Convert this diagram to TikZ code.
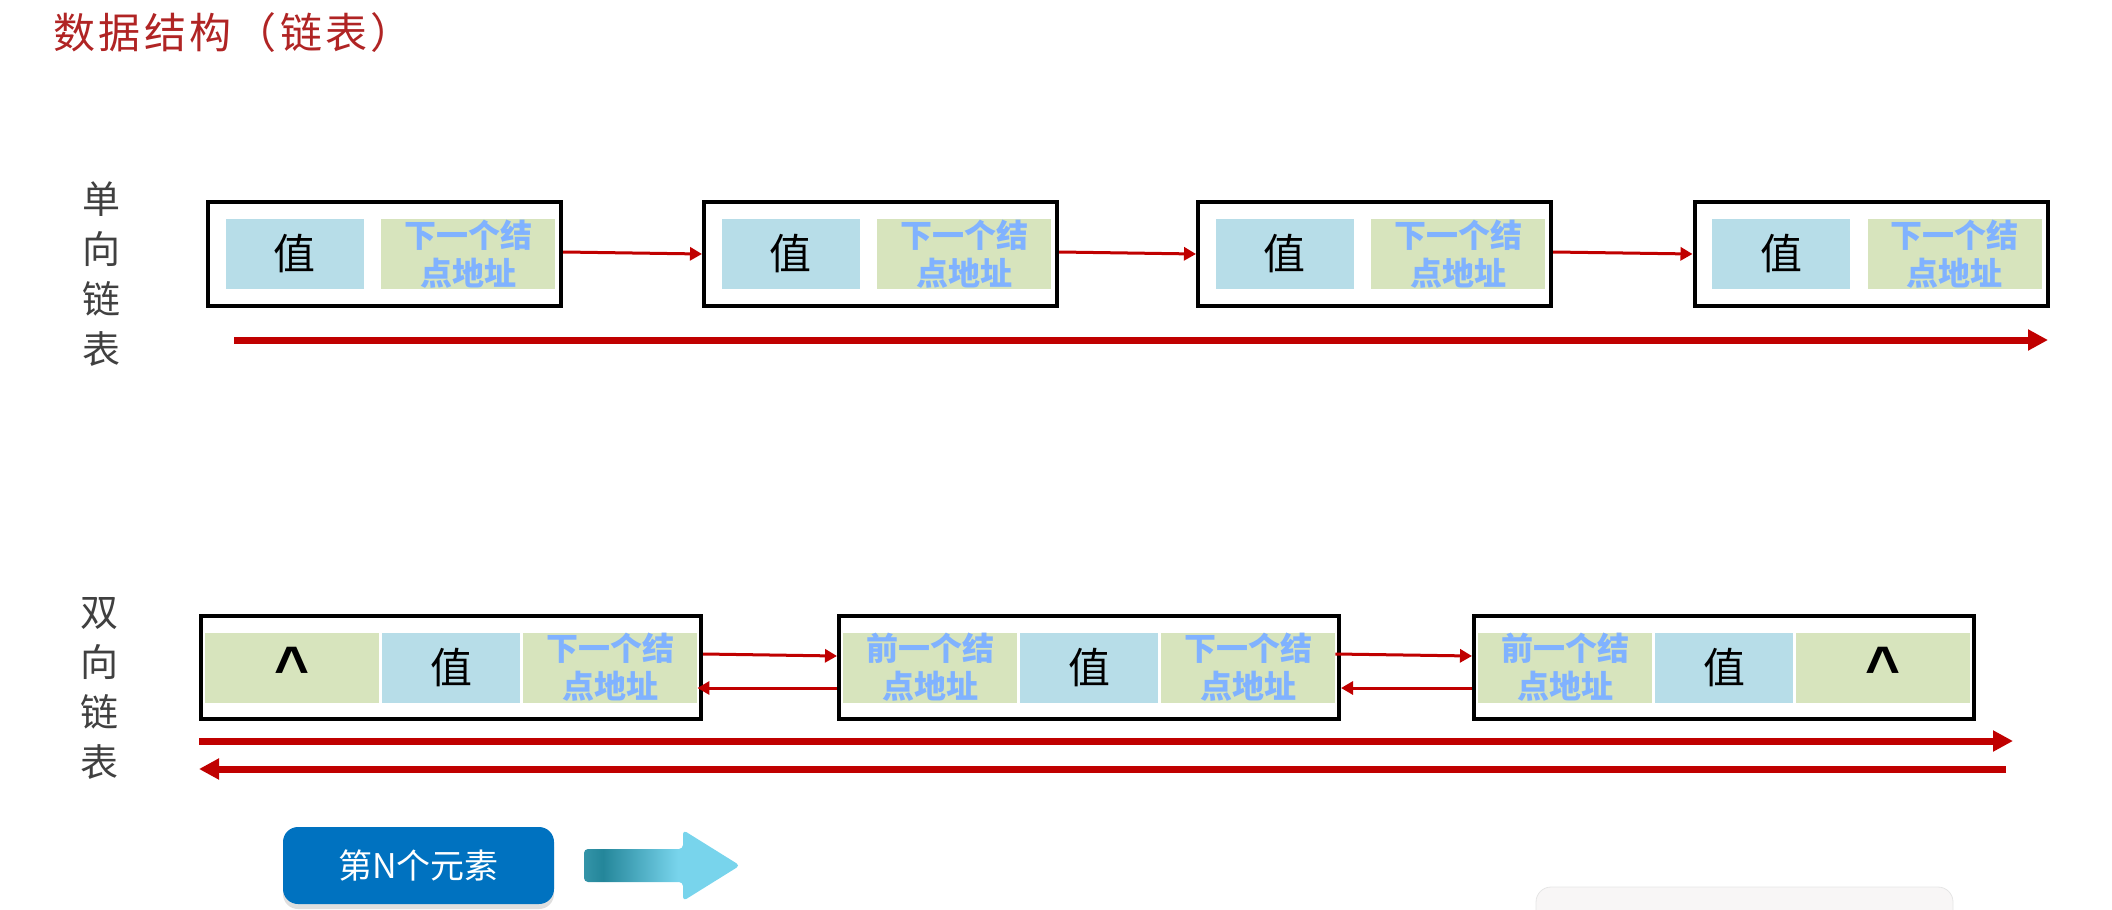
\documentclass[tikz,border=0pt]{standalone}
\usepackage{fontspec}
\setmainfont{Noto Sans CJK SC}
\newfontfamily\capfont{Liberation Sans}
\usetikzlibrary{arrows.meta,shadows}
\definecolor{cellblue}{RGB}{183,221,232}
\definecolor{cellgreen}{RGB}{215,228,189}
\definecolor{ptrblue}{RGB}{128,178,255}
\definecolor{linkred}{RGB}{192,0,0}
\definecolor{titlered}{RGB}{176,36,36}
\definecolor{labelgray}{RGB}{64,64,64}
\definecolor{btnblue}{RGB}{0,114,192}
\definecolor{arrowedge}{RGB}{52,148,168}
\definecolor{arrowdark}{RGB}{36,134,154}
\definecolor{arrowlight}{RGB}{120,212,236}
\definecolor{paleback}{RGB}{248,246,246}
\newcommand{\ttlfont}{\addfontfeatures{LetterSpace=8}\fontsize{21pt}{25pt}\selectfont}
\newcommand{\lblfont}{\fontsize{19pt}{25pt}\selectfont}
\newcommand{\valfont}{\fontsize{21pt}{21pt}\selectfont}
\newcommand{\ptrfont}{\bfseries\fontsize{16pt}{19pt}\selectfont}
\newcommand{\nilfont}{\capfont\bfseries\fontsize{30pt}{30pt}\selectfont}
\newcommand{\btnfont}{\fontsize{17pt}{17pt}\selectfont}
\pgfdeclarehorizontalshading{arrowfade}{100bp}{color(0bp)=(arrowedge); color(25bp)=(arrowedge); color(31bp)=(arrowdark); color(55bp)=(arrowlight); color(100bp)=(arrowlight)}
\tikzstyle{sbox}=[draw=black, line width=2pt, minimum width=176.5pt, minimum height=51.5pt, inner sep=0pt]
\tikzstyle{dbox}=[sbox, minimum width=250pt]
\tikzstyle{vcell}=[fill=cellblue, minimum width=69pt, minimum height=35pt, inner sep=0pt, font=\valfont]
\tikzstyle{pcell}=[fill=cellgreen, minimum width=87pt, minimum height=35pt, inner sep=0pt, align=center, text=ptrblue, font=\ptrfont]
\tikzstyle{ncell}=[pcell, text=black, font=\nilfont]
\tikzstyle{lbl}=[align=center, inner sep=0pt, text=labelgray, font=\lblfont]
\tikzstyle{link}=[draw=linkred, line width=1.5pt, -{Triangle[length=6pt,width=6.5pt]}]
\tikzstyle{flow}=[draw=linkred, line width=3.5pt, -{Triangle[length=10pt,width=10pt]}]
\tikzstyle{btn}=[fill=btnblue, rounded corners=7.5pt, minimum width=135.5pt, minimum height=38.5pt, text=white, font=\btnfont, drop shadow={shadow xshift=0pt, shadow yshift=-2.5pt, fill=black!25, opacity=0.5}]

\begin{document}
\begin{tikzpicture}[x=0.5pt, y=-0.5pt]
    \useasboundingbox (0,0) rectangle (2112,909);

    \node[anchor=west, inner sep=0pt, text=titlered, font=\ttlfont] (title) at (53,33) {数据结构（链表）};

    % single list
    \node[lbl] (slbl) at (101,274) {单\\向\\链\\表};

    \node[sbox] (s1) at (384.5,254) {};
    \node[sbox] (s2) at (880.5,254) {};
    \node[sbox] (s3) at (1374.5,254) {};
    \node[sbox] (s4) at (1871,254) {};

    \node[vcell] (sv1) at ([xshift=-45pt]s1.center) {值};
    \node[pcell] (sp1) at ([xshift=41.75pt]s1.center) {下一个结\\点地址};
    \node[vcell] (sv2) at ([xshift=-45pt]s2.center) {值};
    \node[pcell] (sp2) at ([xshift=41.75pt]s2.center) {下一个结\\点地址};
    \node[vcell] (sv3) at ([xshift=-45pt]s3.center) {值};
    \node[pcell] (sp3) at ([xshift=41.75pt]s3.center) {下一个结\\点地址};
    \node[vcell] (sv4) at ([xshift=-45pt]s4.center) {值};
    \node[pcell] (sp4) at ([xshift=41.75pt]s4.center) {下一个结\\点地址};

    \draw[link] ([yshift=1pt]s1.east) -- (s2.west);
    \draw[link] ([yshift=1pt]s2.east) -- (s3.west);
    \draw[link] ([yshift=1pt]s3.east) -- (s4.west);

    \coordinate (sfrom) at (234,340);
    \coordinate (sto) at (2048,340);
    \draw[flow] (sfrom) -- (sto);

    % double list
    \node[lbl] (dlbl) at (99,688) {双\\向\\链\\表};

    \node[dbox] (d1) at (451,667.5) {};
    \node[dbox] (d2) at (1089,667.5) {};
    \node[dbox] (d3) at (1724,667.5) {};

    \node[ncell] (dl1) at ([xshift=-79.5pt]d1.center) {\textasciicircum};
    \node[vcell] (dv1) at (d1.center) {值};
    \node[pcell] (dr1) at ([xshift=79.5pt]d1.center) {下一个结\\点地址};
    \node[pcell] (dl2) at ([xshift=-79.5pt]d2.center) {前一个结\\点地址};
    \node[vcell] (dv2) at (d2.center) {值};
    \node[pcell] (dr2) at ([xshift=79.5pt]d2.center) {下一个结\\点地址};
    \node[pcell] (dl3) at ([xshift=-79.5pt]d3.center) {前一个结\\点地址};
    \node[vcell] (dv3) at (d3.center) {值};
    \node[ncell] (dr3) at ([xshift=79.5pt]d3.center) {\textasciicircum};

    \draw[link] ([yshift=6.75pt]d1.east) -- ([yshift=5.75pt]d2.west);
    \draw[link] ([yshift=-10.25pt]d2.west) -- ([yshift=-10.25pt]dr1.east);
    \draw[link] ([yshift=6.75pt]dr2.east) -- ([yshift=5.75pt]d3.west);
    \draw[link] ([yshift=-10.25pt]d3.west) -- ([yshift=-10.25pt]d2.east);

    \coordinate (dfrom) at (199,741);
    \coordinate (dto) at (2013,741);
    \coordinate (bfrom) at (2006,769);
    \coordinate (bto) at (199,769);
    \draw[flow] (dfrom) -- (dto);
    \draw[flow] (bfrom) -- (bto);

    % legend
    \node[btn] (elem) at (418.5,865.5) {第N个元素};
    \shade[shading=arrowfade, rounded corners=2pt] (584,849) -- (683,849) -- (683,830) -- (740,865.5) -- (683,901) -- (683,882) -- (584,882) -- cycle;

    \draw[draw=black!10, fill=paleback, rounded corners=7.5pt] (1536,887) rectangle (1953,940);
\end{tikzpicture}
\end{document}
